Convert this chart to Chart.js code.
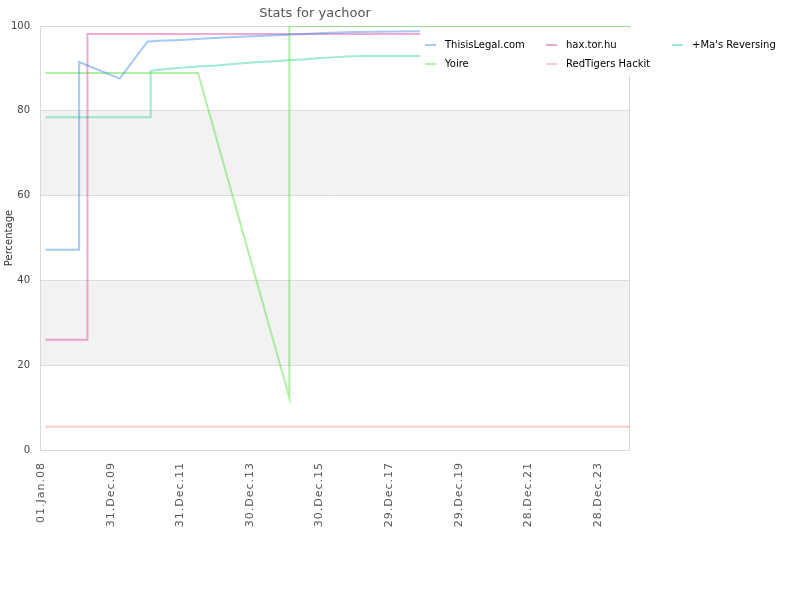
<!DOCTYPE html>
<html>
<head>
<meta charset="utf-8">
<script src="https://cdn.jsdelivr.net/npm/chart.js@4/dist/chart.umd.min.js"></script>
<style>
body{margin:0;background:#fff;}
</style>
</head>
<body>
<canvas id="stx" width="800" height="600"></canvas>
<script>
// days counted from 01.Jan.08
const xTickDays=[0,730,1460,2190,2920,3650,4380,5110,5840];
const xTickLabels=["01.Jan.08","31.Dec.09","31.Dec.11","30.Dec.13","30.Dec.15","29.Dec.17","29.Dec.19","28.Dec.21","28.Dec.23"];
const yTicks=[0,20,40,60,80,100];

const legalDays=[47,400,400,825,1115,1231,1461,1681,1908,2142,2362,2579,2802,3039,3270,4200];
const legalVals=[47.2,47.2,91.5,87.6,96.3,96.5,96.7,97.0,97.3,97.5,97.7,97.95,98.2,98.4,98.6,98.8];

const haxDays=[47,487,487,4200];
const haxVals=[26.0,26.0,98.1,98.1];

const masDays=[47,1150,1150,1231,1377,1531,1681,1838,1985,2142,2288,2445,2592,2746,2903,3053,3207,3357,4200];
const masVals=[78.5,78.5,89.4,89.7,90.0,90.3,90.5,90.7,91.0,91.3,91.5,91.7,91.9,92.1,92.4,92.6,92.8,92.9,92.9];

const yoireDays=[47,1646,2603,2603,6174];
const yoireVals=[88.9,88.9,12.4,100,100];

const redDays=[47,6174];
const redVals=[5.5,5.5];

const xMax=6174;

function pts(d,v){
  let out=[];
  for(let i=0;i<d.length;i++) out.push({x:d[i],y:v[i]});
  return out;
}

const lineColors=["rgba(51,136,230,0.45)","rgba(222,67,155,0.45)","rgba(44,211,144,0.45)","rgba(78,222,56,0.45)","rgba(244,144,144,0.45)"];

function ds(label,d,v,c){
  return {label:label,data:pts(d,v),borderColor:c,backgroundColor:c,borderWidth:2,pointRadius:0,tension:0,fill:false};
}

const bands={
  id:'bands',
  beforeDraw(chart){
    const c=chart.ctx, a=chart.chartArea, y=chart.scales.y;
    // spaced-out x labels like the original
    const sx=chart.scales.x;
    if(sx && !sx._spaced){
      const orig=sx.drawLabels;
      sx.drawLabels=function(area){
        const cx=this.ctx;
        cx.save();
        cx.letterSpacing='1px';
        orig.call(this,area);
        cx.restore();
      };
      sx._spaced=true;
    }
    c.save();
    c.fillStyle='#f2f2f2';
    [[20,40],[60,80]].forEach(b=>{
      const t=y.getPixelForValue(b[1]), bt=y.getPixelForValue(b[0]);
      c.fillRect(a.left,t,a.right-a.left,bt-t);
    });
    c.restore();
  },
  beforeDatasetsDraw(chart){
    const c=chart.ctx, a=chart.chartArea;
    c.save();
    c.strokeStyle='#d9d9d9';
    c.lineWidth=1;
    c.strokeRect(Math.round(a.left)-0.5,Math.round(a.top)+0.5,Math.round(a.right-a.left),Math.round(a.bottom-a.top));
    c.restore();
  }
};

const boxLegend={
  id:'boxLegend',
  afterDraw(chart){
    const c=chart.ctx;
    c.save();
    c.fillStyle='#fff';
    c.fillRect(420,28,378,47);
    const cols=[425,546,672], rows=[45,64];
    c.font='10px "DejaVu Sans"';
    c.textBaseline='middle';
    chart.data.datasets.forEach((d,i)=>{
      const x=cols[i%3], y=rows[Math.floor(i/3)];
      c.strokeStyle=d.borderColor;
      c.lineWidth=2;
      c.beginPath();c.moveTo(x,y);c.lineTo(x+11,y);c.stroke();
      c.fillStyle='#000';
      c.fillText(d.label,x+20,y);
    });
    c.restore();
  }
};

Chart.defaults.font.family='"DejaVu Sans"';
Chart.defaults.font.size=10;
Chart.defaults.color='#444';

new Chart("stx",{
  type:"line",
  data:{
    datasets:[
      ds("ThisisLegal.com",legalDays,legalVals,lineColors[0]),
      ds("hax.tor.hu",haxDays,haxVals,lineColors[1]),
      ds("+Ma's Reversing",masDays,masVals,lineColors[2]),
      ds("Yoire",yoireDays,yoireVals,lineColors[3]),
      ds("RedTigers Hackit",redDays,redVals,lineColors[4])
    ]
  },
  options:{
    responsive:false,
    animation:false,
    layout:{padding:{left:0,right:170,top:0,bottom:0}},
    plugins:{
      legend:{display:false},
      tooltip:{enabled:false},
      title:{display:true,text:"Stats for yachoor",color:'#555',font:{size:13,weight:'normal'},padding:{top:6,bottom:4.4}}
    },
    scales:{
      x:{
        type:'linear',min:0,max:xMax,
        grid:{display:false},
        border:{display:false},
        afterBuildTicks(s){ s.ticks=xTickDays.map(v=>({value:v})); },
        afterFit(s){ s.height=150; },
        ticks:{autoSkip:false,maxRotation:90,minRotation:90,padding:4,color:'#555',font:{size:11},
          callback(v,i){ return xTickLabels[i]; }}
      },
      y:{
        min:0,max:100,
        afterBuildTicks(s){ s.ticks=yTicks.map(v=>({value:v})); },
        afterFit(s){ s.width=41; },
        grid:{color:'#dddddd',drawTicks:false},
        border:{display:false},
        ticks:{padding:11,color:'#444'},
        title:{display:true,text:'Percentage',color:'#333',font:{size:10},padding:{top:3,bottom:0}}
      }
    }
  },
  plugins:[bands,boxLegend]
});
</script>
</body>
</html>
